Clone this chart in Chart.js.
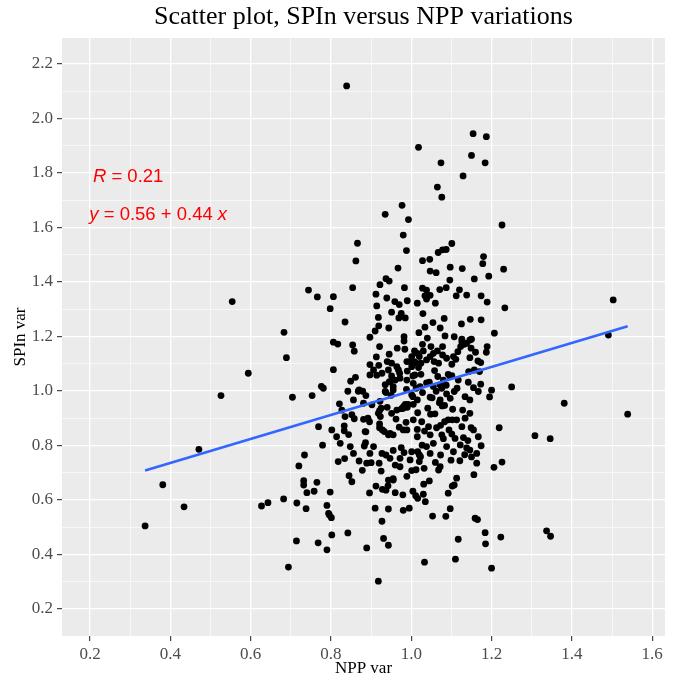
<!DOCTYPE html>
<html><head><meta charset="utf-8">
<script src="https://cdn.jsdelivr.net/npm/chart.js@4.4.0/dist/chart.umd.min.js"></script>
<style>html,body{margin:0;padding:0;background:#fff;} canvas{display:block;}</style>
</head><body>
<canvas id="c" width="676" height="679"></canvas>
<script>
const titleText = 'Scatter plot, SPIn versus NPP variations';
const xTitle = 'NPP var';
const yTitle = 'SPIn var';
const xTickLabels = ['0.2','0.4','0.6','0.8','1.0','1.2','1.4','1.6'];
const yTickLabels = ['0.2','0.4','0.6','0.8','1.0','1.2','1.4','1.6','1.8','2.0','2.2'];
const fitIntercept = 0.56;
const fitSlope = 0.44;
const corrR = '0.21';

const nppVar = [
0.839,0.866,0.862,0.854,0.744,0.766,0.806,0.798,0.835,0.554,
0.683,1.154,1.187,1.018,1.150,1.184,1.074,1.129,1.065,1.076,
0.977,0.935,0.993,1.226,0.980,0.988,1.101,1.087,1.078,1.067,
1.028,1.046,0.967,1.180,1.178,1.230,1.097,1.127,1.047,1.062,
1.157,1.193,1.096,0.937,0.945,0.922,0.983,1.028,1.038,1.071,
1.087,1.120,0.912,0.939,0.959,0.970,0.990,1.034,1.047,1.038,
1.112,1.138,1.174,1.189,0.914,1.015,1.060,0.951,0.975,0.918,
0.969,0.985,1.029,1.082,1.147,1.174,1.233,0.919,0.944,0.910,
1.034,1.054,1.072,1.125,1.019,0.897,0.982,1.040,1.084,1.107,
1.126,1.150,1.207,1.503,1.491,0.806,0.817,0.854,0.858,0.689,
0.594,0.806,0.861,0.849,0.842,0.868,0.776,0.781,0.753,0.704,
0.526,0.821,0.852,0.858,0.769,0.833,0.833,0.844,0.779,0.471,
0.734,0.720,0.818,0.834,0.870,0.845,0.852,0.732,0.732,0.765,
0.740,0.758,0.798,0.381,0.627,0.643,0.682,0.715,0.738,0.790,
0.794,0.796,0.801,0.434,0.337,0.842,0.802,0.714,0.768,0.790,
0.694,1.250,1.381,1.539,1.308,1.346,1.219,1.200,1.195,1.226,
1.206,1.156,1.174,1.337,1.347,1.184,1.223,1.185,1.200,1.110,
1.033,1.117,0.918,0.889,0.931,0.943,0.927,0.910,0.943,0.980,
0.995,1.053,1.086,1.097,1.159,1.165,0.896,0.912,0.928,0.937,
0.942,0.960,0.979,1.004,1.011,1.016,1.030,1.035,1.031,1.045,
1.092,1.102,1.107,1.113,0.878,0.900,0.920,0.925,0.955,0.989,
0.960,0.972,1.001,1.012,1.032,1.060,1.068,1.072,1.099,1.121,
1.150,1.133,1.138,1.073,1.020,1.023,1.016,1.027,1.020,1.001,
0.975,0.982,0.955,0.927,0.937,0.883,0.886,0.887,0.881,0.892,
0.896,0.921,0.921,0.928,0.933,0.943,0.955,0.962,0.970,0.980,
0.987,1.015,1.015,1.033,1.063,1.073,1.083,1.092,1.102,1.076,
1.080,1.094,1.101,1.109,1.130,1.141,1.149,1.134,1.041,1.048,
1.059,1.016,1.070,1.077,1.083,1.103,0.992,0.981,0.976,0.940,
0.921,0.923,0.870,0.879,0.887,0.922,0.925,0.950,0.937,0.988,
1.001,1.012,1.028,1.052,1.062,1.076,1.087,1.088,1.114,1.142,
1.155,1.173,0.935,0.945,0.955,0.914,0.927,0.968,0.971,0.990,
1.004,1.024,1.045,1.066,1.058,1.092,1.101,1.143,1.170,1.173,
1.166,1.146,1.160,1.187,1.189,1.146,1.132,1.123,1.138,1.111,
1.101,1.078,1.049,1.065,1.047,1.057,1.068,1.028,1.030,1.015,
1.008,1.020,0.997,1.012,1.018,0.984,0.965,0.921,0.945,0.940,
0.913,0.897,0.919,1.009,0.947,0.935,0.955,0.985,0.980,1.005,
0.918,0.947,0.989,0.885,0.943,0.955,0.982,1.001,1.007,1.024,
1.038,1.055,1.078,1.088,1.105,1.116,1.126,1.149,1.157,1.117,
1.097,1.080,1.072,1.055,1.038,1.022,1.005,0.989,0.972,0.960,
0.951,1.001,0.989,0.964,0.951,0.943,0.906,0.897,0.990,1.004,
1.015,1.047,1.072,1.097,1.107,1.134,1.146,1.167,1.128,1.146,
1.113,1.126,1.155,1.167,1.146,1.163,1.163,0.906,0.897,0.856,
0.848,0.823,0.814,0.802,0.835,0.827,0.856,0.881,0.902,0.951,
0.964,1.005,1.026,1.043,1.047,1.055,1.038,1.088,1.105,1.122,
1.047,0.997,0.972,0.947,0.889
];
const spinVar = [
2.119,1.542,1.477,1.379,1.370,1.345,1.346,1.302,1.253,1.328,
1.215,1.944,1.933,1.894,1.864,1.837,1.837,1.789,1.748,1.711,
1.681,1.648,1.629,1.609,1.572,1.515,1.541,1.519,1.518,1.508,
1.478,1.483,1.451,1.493,1.467,1.447,1.454,1.449,1.440,1.434,
1.411,1.421,1.407,1.412,1.403,1.390,1.379,1.377,1.370,1.372,
1.379,1.371,1.355,1.341,1.328,1.317,1.331,1.349,1.351,1.337,
1.349,1.352,1.349,1.326,1.312,1.322,1.322,1.289,1.285,1.270,
1.268,1.268,1.284,1.266,1.263,1.261,1.305,1.239,1.231,1.220,
1.234,1.251,1.231,1.246,1.214,1.197,1.199,1.194,1.202,1.199,
1.190,1.190,1.212,1.334,1.205,1.179,1.172,1.169,1.146,1.122,
1.065,1.078,1.050,1.036,0.999,0.999,1.017,1.010,0.983,0.977,
0.983,0.953,0.913,0.898,0.869,0.872,0.854,0.840,0.801,0.786,
0.765,0.725,0.741,0.752,0.743,0.689,0.667,0.671,0.655,0.665,
0.627,0.632,0.629,0.656,0.578,0.590,0.604,0.589,0.568,0.580,
0.551,0.545,0.535,0.575,0.505,0.479,0.472,0.450,0.443,0.417,
0.354,1.015,0.955,0.915,0.836,0.825,0.865,1.003,0.978,0.739,
0.720,0.693,0.799,0.487,0.467,0.480,0.464,0.439,0.350,0.383,
0.372,0.456,0.302,0.424,0.459,0.434,0.522,0.570,0.567,0.562,
0.570,0.541,0.540,0.568,0.533,0.528,0.626,0.651,0.639,0.636,
0.652,0.627,0.619,0.632,0.616,0.606,0.621,0.594,0.658,0.670,
0.625,0.651,0.655,0.680,0.709,0.737,0.735,0.706,0.678,0.687,
0.728,0.722,0.708,0.711,0.716,0.738,0.710,0.722,0.746,0.744,
0.758,0.766,0.791,0.765,0.741,0.759,0.777,0.801,0.765,0.777,
0.792,0.774,0.782,0.771,0.765,0.798,0.810,0.850,0.896,0.900,
0.887,0.879,0.865,0.857,0.851,0.839,0.839,0.897,0.867,0.857,
0.885,0.859,0.832,0.853,0.865,0.874,0.887,0.894,0.894,0.839,
0.825,0.857,0.842,0.826,0.829,0.818,0.865,0.900,0.937,0.915,
0.916,0.920,0.957,0.945,0.947,0.933,0.951,0.943,0.935,0.940,
0.928,0.906,1.004,0.999,0.983,0.962,0.937,0.984,0.994,1.006,
0.986,1.010,0.994,0.975,0.999,1.010,1.021,0.989,1.010,1.032,
1.012,1.025,1.023,1.033,1.016,1.058,1.065,1.077,1.065,1.073,
1.055,1.061,1.032,1.053,1.075,1.061,1.056,1.071,1.071,1.104,
1.110,1.122,1.142,1.142,1.163,1.187,1.171,1.163,1.175,1.116,
1.098,1.163,1.163,1.147,1.126,1.108,1.102,1.171,1.147,1.138,
1.147,1.126,1.108,1.102,1.086,1.153,1.157,1.163,1.135,1.108,
1.125,1.097,1.094,1.059,1.034,0.998,1.004,0.951,0.937,0.951,
0.918,0.844,0.857,0.851,0.673,0.673,1.183,1.126,1.108,1.102,
1.114,1.138,1.132,1.120,1.126,1.144,1.181,1.157,1.077,1.040,
1.053,1.040,1.022,1.016,1.030,1.016,1.028,1.040,1.047,1.040,
1.055,1.089,1.108,1.089,1.102,1.077,1.077,1.059,0.940,0.979,
0.967,0.977,0.967,0.973,0.998,0.979,0.967,0.998,0.930,0.918,
0.894,0.869,0.857,0.832,0.783,0.771,0.735,0.796,0.771,0.771,
0.796,0.808,0.832,0.857,0.906,0.930,0.967,0.955,0.949,0.918,
0.930,0.894,0.887,0.869,0.839,0.808,0.796,0.796,0.777,0.802,
0.771,0.747,0.753,0.753,0.735
];

const points = nppVar.map((x, i) => ({x: x, y: spinVar[i]}));
const xMin = Math.min(...nppVar), xMax = Math.max(...nppVar);
const fitLine = [xMin, xMax].map(x => ({x: x, y: fitIntercept + fitSlope * x}));

function makeTicks(labels) {
  const majors = labels.map(Number);
  const list = majors.map((v, i) => ({value: v, isMajor: true, label: labels[i]}));
  for (let i = 0; i < majors.length - 1; i++) {
    list.push({value: (majors[i] + majors[i + 1]) / 2, isMajor: false, label: ''});
  }
  list.sort((a, b) => a.value - b.value);
  return list;
}
const xTicks = makeTicks(xTickLabels);
const yTicks = makeTicks(yTickLabels);

const serif = "'Liberation Serif', 'Times New Roman', serif";

const panelBg = {
  id: 'panelBg',
  beforeDraw(chart) {
    const a = chart.chartArea, c = chart.ctx;
    c.save();
    c.fillStyle = '#EBEBEB';
    c.fillRect(a.left, a.top, a.right - a.left, a.bottom - a.top);
    c.restore();
  }
};

const annot = {
  id: 'annot',
  afterDraw(chart) {
    const c = chart.ctx, xs = chart.scales.x, ys = chart.scales.y;
    function drawParts(parts, xv, yv) {
      let px = xs.getPixelForValue(xv);
      const py = ys.getPixelForValue(yv);
      c.save();
      c.fillStyle = '#FF0000';
      c.textBaseline = 'alphabetic';
      c.textAlign = 'left';
      parts.forEach(p => {
        c.font = (p[1] ? 'italic ' : '') + "18.5px 'Liberation Sans', Arial, sans-serif";
        c.fillText(p[0], px, py);
        px += c.measureText(p[0]).width;
      });
      c.restore();
    }
    drawParts([['R', true], [' = ' + corrR, false]], 0.207, 1.767);
    drawParts([['y', true], [' = ' + fitIntercept.toFixed(2) + ' + ' + fitSlope.toFixed(2) + ' ', false], ['x', true]], 0.198, 1.628);
  }
};

function scaleOpts(ticks, min, max, title, isX) {
  return {
    type: 'linear',
    min: min, max: max,
    afterBuildTicks: s => { s.ticks = ticks.map(t => ({value: t.value, isMajor: t.isMajor, lab: t.label})); },
    afterFit: s => { if (isX) s.height = 43; else s.width = 62; },
    border: {display: false},
    grid: {
      color: '#FFFFFF',
      lineWidth: ctx => (ctx.tick && ctx.tick.isMajor) ? 1.3 : 0.6,
      tickColor: ctx => (ctx.tick && ctx.tick.isMajor) ? '#333333' : 'rgba(0,0,0,0)',
      tickLength: 5,
      tickWidth: 1.1
    },
    ticks: {
      autoSkip: false,
      maxRotation: 0,
      minRotation: 0,
      padding: isX ? 3 : 4,
      color: '#4D4D4D',
      font: {family: serif, size: 17},
      callback: (v, i, arr) => arr[i].lab
    },
    title: {
      display: true,
      text: title,
      color: '#000000',
      font: {family: serif, size: 17},
      padding: isX ? {top: 0, bottom: 0} : {top: 10, bottom: 0}
    }
  };
}

new Chart(document.getElementById('c'), {
  type: 'scatter',
  data: {
    datasets: [
      {
        type: 'line',
        data: fitLine,
        borderColor: '#3366FF',
        borderWidth: 2.6,
        pointRadius: 0,
        fill: false,
        order: 0
      },
      {
        type: 'scatter',
        data: points,
        backgroundColor: '#000000',
        borderWidth: 0,
        pointRadius: 3.4,
        pointHoverRadius: 3.4,
        order: 1
      }
    ]
  },
  options: {
    responsive: false,
    devicePixelRatio: 1,
    animation: false,
    layout: {padding: {left: 0, right: 11, top: 0, bottom: 0}},
    plugins: {
      legend: {display: false},
      tooltip: {enabled: false},
      title: {
        display: true,
        text: titleText,
        fullSize: false,
        color: '#000000',
        font: {family: serif, size: 26, weight: 'normal'},
        padding: {top: 2, bottom: 4.8}
      }
    },
    scales: {
      x: scaleOpts(xTicks, 0.13, 1.632, xTitle, true),
      y: scaleOpts(yTicks, 0.101, 2.295, yTitle, false)
    }
  },
  plugins: [panelBg, annot]
});
</script>
</body></html>
